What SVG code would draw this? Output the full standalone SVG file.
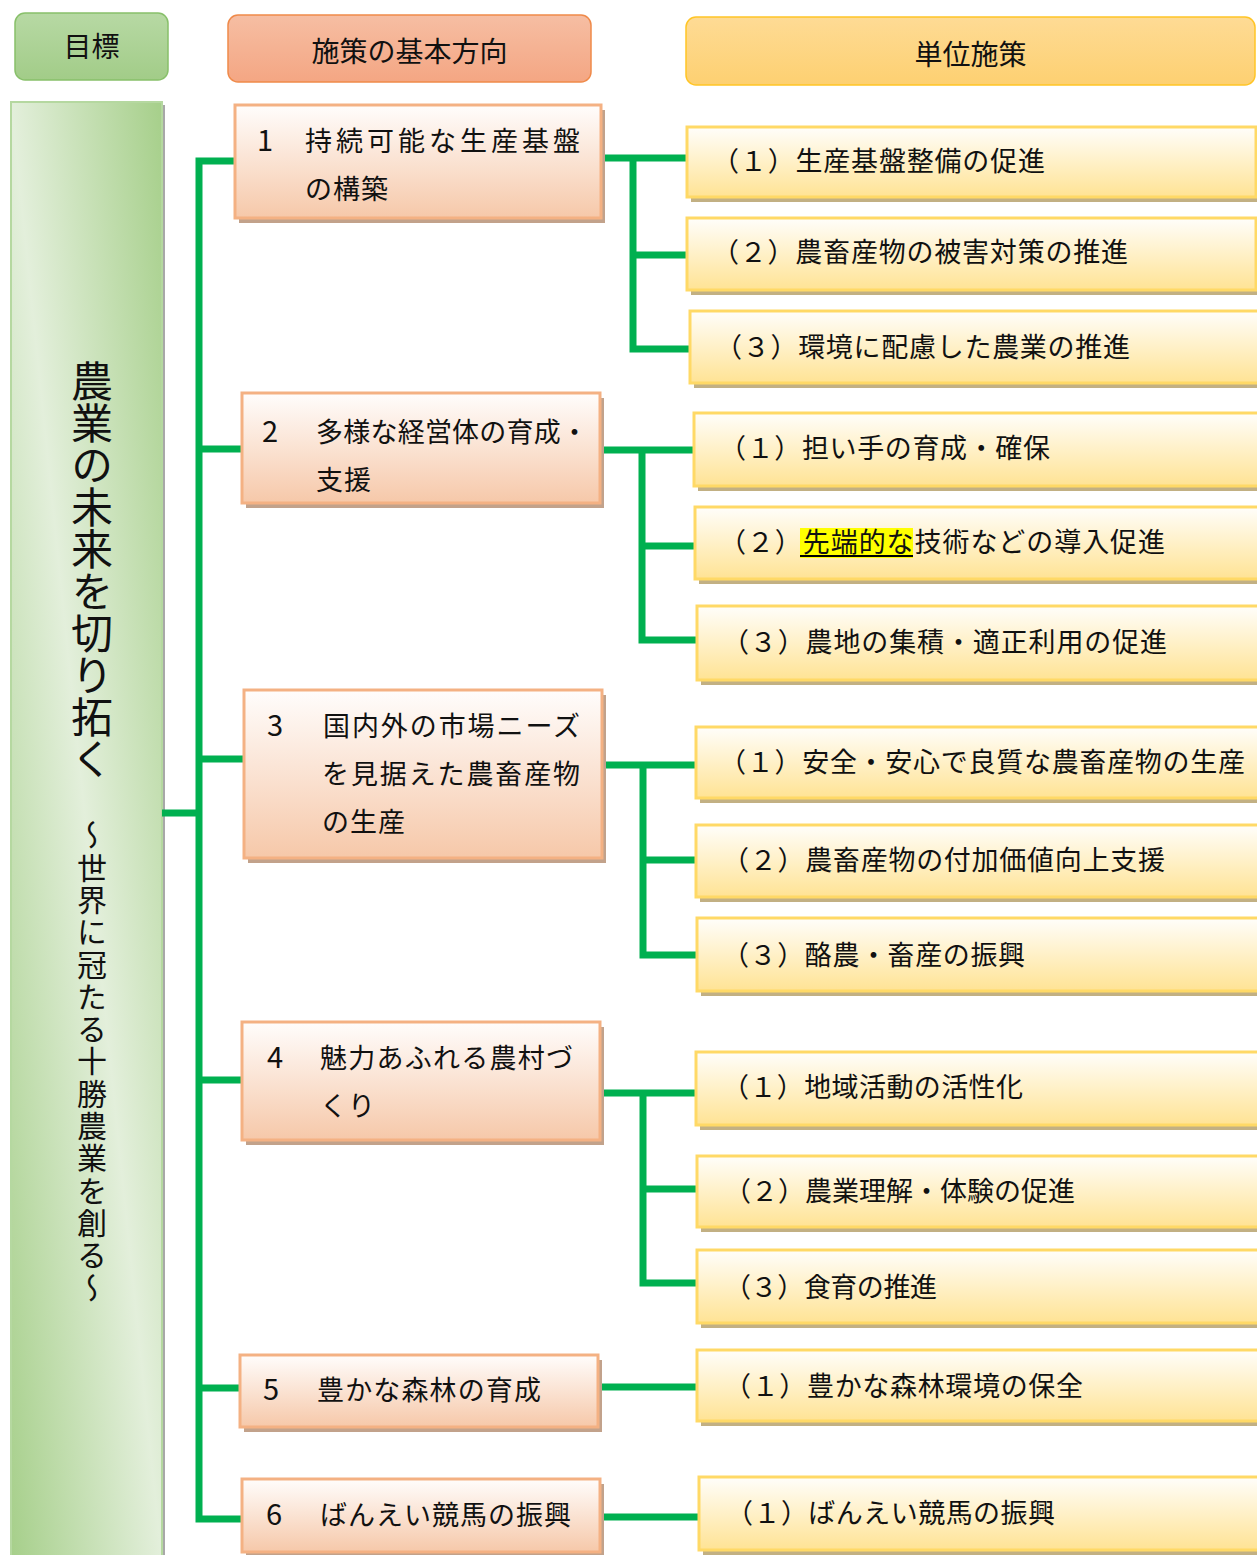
<svg xmlns="http://www.w3.org/2000/svg" width="1257" height="1555" viewBox="0 0 1257 1555">
<defs>
<linearGradient id="gHdrG" x1="0" y1="0" x2="0" y2="1"><stop offset="0" stop-color="#b7d9a4"/><stop offset="1" stop-color="#a2cc88"/></linearGradient>
<linearGradient id="gHdrO" x1="0" y1="0" x2="0" y2="1"><stop offset="0" stop-color="#f6bea3"/><stop offset="1" stop-color="#f4a683"/></linearGradient>
<linearGradient id="gHdrY" x1="0" y1="0" x2="0" y2="1"><stop offset="0" stop-color="#fedb95"/><stop offset="1" stop-color="#fdd071"/></linearGradient>
<linearGradient id="gBig" x1="1" y1="0" x2="0" y2="1"><stop offset="0" stop-color="#a6cf8a"/><stop offset="0.5" stop-color="#e3efdb"/><stop offset="1" stop-color="#a6cf8a"/></linearGradient>
<linearGradient id="gMid" x1="0" y1="0" x2="0" y2="1"><stop offset="0" stop-color="#fffdfc"/><stop offset="1" stop-color="#f6c8a9"/></linearGradient>
<linearGradient id="gRt" x1="0" y1="0" x2="0" y2="1"><stop offset="0" stop-color="#fffefb"/><stop offset="1" stop-color="#ffe394"/></linearGradient>
</defs>
<style>
text{font-family:"Noto Sans CJK JP","Noto Sans",sans-serif;fill:#111;}
.hdr{font-size:28px;text-anchor:middle;}
.mid{font-size:27px;}
.num{font-size:29px;}
.rt{font-size:27px;}
.midbox{fill:url(#gMid);stroke:#f4b183;stroke-width:3;}
.midsh{fill:#c2a28b;}
.rtbox{fill:url(#gRt);stroke:#ffd966;stroke-width:3;}
.rtsh{fill:#c2b083;}
.conn{fill:none;stroke:#00b050;stroke-width:7;stroke-linejoin:miter;}
</style>

<g id="headers">
<g id="hdr-goal"><rect x="15" y="13" width="153" height="67" rx="10" fill="url(#gHdrG)" stroke="#88c06a" stroke-width="1.5"/><text class="hdr" x="91.5" y="57">目標</text></g>
<g id="hdr-direction"><rect x="228" y="15" width="363" height="67" rx="10" fill="url(#gHdrO)" stroke="#ef8a4a" stroke-width="1.5"/><text class="hdr" x="409.5" y="62">施策の基本方向</text></g>
<g id="hdr-unit"><rect x="686" y="17" width="569" height="68" rx="10" fill="url(#gHdrY)" stroke="#ffc526" stroke-width="1.5"/><text class="hdr" x="970.5" y="65">単位施策</text></g>
</g>

<g id="goal">
<rect x="14" y="105" width="151" height="1460" fill="#a8a8a8"/>
<rect x="11" y="102" width="151" height="1460" fill="url(#gBig)" stroke="#b5d8a0" stroke-width="2"/>
<text x="92" y="360" style="writing-mode:vertical-rl;font-size:42px;">農業の未来を切り拓く</text>
<text x="92" y="820" style="writing-mode:vertical-rl;font-size:30px;letter-spacing:2.3px;">～世界に冠たる十勝農業を創る～</text>
</g>

<g id="connectors">
<path class="conn" d="M235,161 H199 V1519 H242"/>
<path class="conn" d="M162,813 H199"/>
<path class="conn" d="M199,449 H242 M199,759 H244 M199,1080 H242 M199,1388 H240"/>
<path class="conn" d="M601,158 H687 M633,158 V349 H690 M633,255 H687"/>
<path class="conn" d="M600,450 H694 M642,450 V640 H697 M642,546 H695"/>
<path class="conn" d="M602,765 H696 M643,765 V955 H697 M643,860 H696"/>
<path class="conn" d="M600,1093 H696 M643,1093 V1283 H697 M643,1189 H697"/>
<path class="conn" d="M598,1387 H697"/>
<path class="conn" d="M600,1517 H699"/>
</g>

<g id="dir1"><rect class="midsh" x="239" y="110" width="366" height="113"/><rect class="midbox" x="235" y="105" width="366" height="113"/>
<text class="mid" y="151"><tspan class="num" x="257">1</tspan><tspan x="305" textLength="275">持続可能な生産基盤</tspan></text>
<text class="mid" x="305" y="199" textLength="83">の構築</text></g>

<g id="dir2"><rect class="midsh" x="246" y="398" width="358" height="110"/><rect class="midbox" x="242" y="393" width="358" height="110"/>
<text class="mid" y="442"><tspan class="num" x="262">2</tspan><tspan x="316" textLength="272">多様な経営体の育成・</tspan></text>
<text class="mid" x="316" y="490" textLength="55">支援</text></g>

<g id="dir3"><rect class="midsh" x="248" y="695" width="358" height="168"/><rect class="midbox" x="244" y="690" width="358" height="168"/>
<text class="mid" y="736"><tspan class="num" x="267">3</tspan><tspan x="323" textLength="257">国内外の市場ニーズ</tspan></text>
<text class="mid" x="322" y="784" textLength="258">を見据えた農畜産物</text>
<text class="mid" x="322" y="832" textLength="83">の生産</text></g>

<g id="dir4"><rect class="midsh" x="246" y="1027" width="358" height="118"/><rect class="midbox" x="242" y="1022" width="358" height="118"/>
<text class="mid" y="1068"><tspan class="num" x="267">4</tspan><tspan x="320" textLength="253">魅力あふれる農村づ</tspan></text>
<text class="mid" x="320" y="1116" textLength="55">くり</text></g>

<g id="dir5"><rect class="midsh" x="244" y="1360" width="358" height="72"/><rect class="midbox" x="240" y="1355" width="358" height="72"/>
<text class="mid" y="1400"><tspan class="num" x="263">5</tspan><tspan x="317" textLength="224">豊かな森林の育成</tspan></text></g>

<g id="dir6"><rect class="midsh" x="246" y="1484" width="358" height="73"/><rect class="midbox" x="242" y="1479" width="358" height="73"/>
<text class="mid" y="1525"><tspan class="num" x="266">6</tspan><tspan x="320" textLength="251">ばんえい競馬の振興</tspan></text></g>

<g id="u1-1"><rect class="rtsh" x="691" y="132" width="569" height="70"/><rect class="rtbox" x="687" y="127" width="569" height="70"/><text class="rt" x="712" y="171" textLength="333">（１）生産基盤整備の促進</text></g>
<g id="u1-2"><rect class="rtsh" x="691" y="223" width="569" height="72"/><rect class="rtbox" x="687" y="218" width="569" height="72"/><text class="rt" x="712" y="262" textLength="416">（２）農畜産物の被害対策の推進</text></g>
<g id="u1-3"><rect class="rtsh" x="694" y="316" width="569" height="72"/><rect class="rtbox" x="690" y="311" width="569" height="72"/><text class="rt" x="715" y="357" textLength="415">（３）環境に配慮した農業の推進</text></g>

<g id="u2-1"><rect class="rtsh" x="698" y="418" width="569" height="73"/><rect class="rtbox" x="694" y="413" width="569" height="73"/><text class="rt" x="719" y="458" textLength="331">（１）担い手の育成・確保</text></g>
<g id="u2-2"><rect class="rtsh" x="699" y="512" width="569" height="72"/><rect class="rtbox" x="695" y="507" width="569" height="72"/>
<rect x="800" y="528" width="113" height="30" fill="#ffff00"/><line x1="800" y1="556" x2="913" y2="556" stroke="#000" stroke-width="2"/>
<text class="rt" x="719" y="552" textLength="446">（２）先端的な技術などの導入促進</text></g>
<g id="u2-3"><rect class="rtsh" x="701" y="611" width="569" height="74"/><rect class="rtbox" x="697" y="606" width="569" height="74"/><text class="rt" x="722" y="652" textLength="445">（３）農地の集積・適正利用の促進</text></g>

<g id="u3-1"><rect class="rtsh" x="700" y="732" width="569" height="71"/><rect class="rtbox" x="696" y="727" width="569" height="71"/><text class="rt" x="719" y="772" textLength="526">（１）安全・安心で良質な農畜産物の生産</text></g>
<g id="u3-2"><rect class="rtsh" x="700" y="830" width="569" height="72"/><rect class="rtbox" x="696" y="825" width="569" height="72"/><text class="rt" x="722" y="870" textLength="443">（２）農畜産物の付加価値向上支援</text></g>
<g id="u3-3"><rect class="rtsh" x="701" y="923" width="569" height="73"/><rect class="rtbox" x="697" y="918" width="569" height="73"/><text class="rt" x="722" y="965" textLength="303">（３）酪農・畜産の振興</text></g>

<g id="u4-1"><rect class="rtsh" x="700" y="1057" width="569" height="73"/><rect class="rtbox" x="696" y="1052" width="569" height="73"/><text class="rt" x="722" y="1097" textLength="301">（１）地域活動の活性化</text></g>
<g id="u4-2"><rect class="rtsh" x="701" y="1161" width="569" height="71"/><rect class="rtbox" x="697" y="1156" width="569" height="71"/><text class="rt" x="724" y="1201" textLength="351">（２）農業理解・体験の促進</text></g>
<g id="u4-3"><rect class="rtsh" x="701" y="1255" width="569" height="73"/><rect class="rtbox" x="697" y="1250" width="569" height="73"/><text class="rt" x="724" y="1297" textLength="213">（３）食育の推進</text></g>

<g id="u5-1"><rect class="rtsh" x="701" y="1355" width="569" height="71"/><rect class="rtbox" x="697" y="1350" width="569" height="71"/><text class="rt" x="724" y="1396" textLength="359">（１）豊かな森林環境の保全</text></g>

<g id="u6-1"><rect class="rtsh" x="703" y="1482" width="569" height="73"/><rect class="rtbox" x="699" y="1477" width="569" height="73"/><text class="rt" x="726" y="1523" textLength="329">（１）ばんえい競馬の振興</text></g>
</svg>
